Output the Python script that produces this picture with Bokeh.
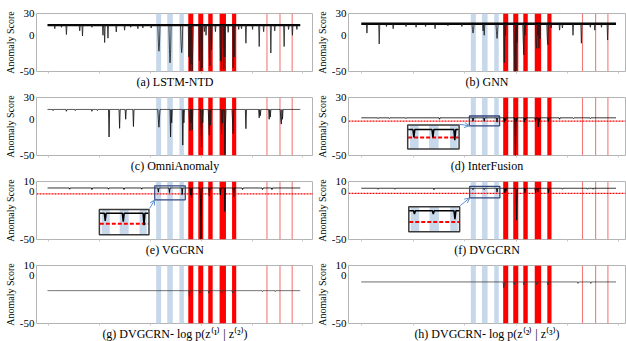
from bokeh.plotting import figure
from bokeh.layouts import gridplot
from bokeh.models import Range1d, FixedTicker, Arrow, OpenHead, CustomJSTickFormatter
from bokeh.embed import file_html
from bokeh.resources import INLINE

FONT = "Liberation Serif"

CAPTIONS = ["(a) LSTM-NTD", "(b) GNN", "(c) OmniAnomaly", "(d) InterFusion",
            "(e) VGCRN", "(f) DVGCRN",
            "(g) DVGCRN- log p(z\u207d\u00b9\u207e | z\u207d\u00b2\u207e)",
            "(h) DVGCRN- log p(z\u207d\u00b2\u207e | z\u207d\u00b3\u207e)"]

Y_TOP = [30, 30, 30, 30, 10, 10, 10, 10]
Y_BOTTOM = -50
Y_TICKS = [[-50, 0, 30], [-50, 0, 30], [-50, 0, 30], [-50, 0, 30],
           [-50, 0, 10], [-50, 0, 10], [-50, 0, 10], [-50, 0, 10]]
X_TICKS = [42, 226, 410, 594, 778, 962]

# labelled anomaly segments (time index, 0..1000)
BLUE_L = [432, 472, 516]
BLUE_R = [450, 492, 532]
RED_L = [548, 584, 620, 661, 706]
RED_R = [566, 602, 636, 684, 721]
THIN_X = [832, 879, 923]

T_START, T_END, T_STEP = 40, 952, 2

BASELINES = [14, 15.7, 13.5, 2, 3.3, 3, -16, -7]
BAND_W = [2.2, 2.5, 0, 0, 0, 0, 0, 0]        # thickness of the noisy normal-score band
LINE_W = [0.8, 0.8, 0.9, 0.9, 0.9, 0.9, 0.8, 0.8]
LINE_C = ["#1a1a1a", "#1a1a1a", "#1a1a1a", "black", "black", "black", "#333333", "#333333"]

SPIKES_A = [(66, 9), (108, 1), (156, 6), (166, -1), (240, 0), (246, -10), (258, -4), (288, 4.5),
            (318, 7), (366, 9), (384, 10), (414, 10), (90, 11), (200, 11), (340, 11),
            (440, -10), (442, -22), (444, -12), (480, -20), (482, -38), (484, -25),
            (522, -12), (524, -24), (526, -15),
            (550, -30), (554, -49), (558, -40), (562, -49), (564, -20),
            (588, -35), (594, -49), (598, -45), (606, 5), (612, 0),
            (624, -30), (626, -42), (632, -20), (646, 5),
            (664, -35), (668, -47), (676, -47), (680, -30), (692, 4),
            (710, -45), (714, -30), (730, 8), (740, 9),
            (756, -11), (780, 8), (804, -15.6), (820, 5), (846, -24.5), (860, 6),
            (894, -15.6), (910, 8), (924, 0), (940, 8)]

SPIKES_B = [(61, 3), (104, -12), (154, 9), (130, 12), (200, 12), (237, 11), (270, 12),
            (303, 9), (350, 13), (400, 12),
            (438, 8), (440, 3), (442, 8), (477, 6), (479, 0), (481, 7),
            (524, 5), (526, -4.4), (528, 6),
            (551, -10), (553, -38), (557, 0), (588, -20), (590, -50), (594, -50), (598, -10),
            (620, -10), (622, -27), (626, 0), (666, -10), (668, -18), (672, 0), (676, -18),
            (680, -5), (706, -5), (708, -13), (720, 10),
            (750, 7), (760, 10), (798, 0), (829, -11), (860, 11), (875, 7), (900, 11), (922, -6.6)]

SPIKES_C = [(60, 12), (108, 11), (140, 12), (200, 11), (220, 12),
            (262, -24.5), (300, -12.5), (322, 0), (350, -10),
            (440, 0), (442, -11), (444, 2), (483, -5), (485, -24.5), (487, -5),
            (527, -10), (529, -35.7), (531, -5),
            (552, 0), (554, -15.6), (558, -5), (562, -15),
            (594, -10), (596, -38), (600, -5), (622, -5), (624, -22), (628, -8),
            (667, -20), (672, -5), (679, -49), (682, -10), (708, -5), (710, -20),
            (756, -13), (804, 2), (808, 5), (840, 0), (844, 3), (882, -2), (884, -6.7), (888, 0)]

SPIKES_D = [(100, 1), (140, 1), (200, 1), (320, 0),
            (441, -2.5), (481, -2.5), (526, -4),
            (552, -4), (556, -2), (590, -4), (593, -50), (596, -3), (624, -4), (628, -1),
            (664, -3), (674, -10.4), (678, -3), (710, -3), (750, 0),
            (800, 1), (860, 1)]

SPIKES_E = [(120, 2), (200, 1.7), (260, 2), (315, 1.7), (380, 2),
            (441, -1), (481, -1.5), (526, -3.5),
            (555, -4), (559, -6.7), (592, -8), (594, -50), (597, -5), (625, -5),
            (664, -4), (680, -21), (712, -5.7),
            (745, 1.7), (815, 1.7), (850, 1.7)]

SPIKES_F = [(100, 2), (160, 2), (300, 1.5),
            (441, 1.5), (481, 1.5), (526, -1),
            (554, -1.7), (558, 0), (595, -30), (598, 0), (626, -1.7),
            (664, -1.7), (672, -1), (710, -1.7),
            (760, 2), (850, 2), (870, 2)]

SPIKES_G = [(551, -22), (553, -20), (590, -18.7), (622, -18.7), (668, -18.7),
            (708, -18.7), (816, -17), (862, -17)]

SPIKES_H = [(550, -13), (552, -10), (589, -10), (622, -10), (667, -10),
            (707, -10), (816, -8.5), (862, -8.5)]

SPIKES = [SPIKES_A, SPIKES_B, SPIKES_C, SPIKES_D, SPIKES_E, SPIKES_F, SPIKES_G, SPIKES_H]

# detection thresholds (panels d, e, f)
THRESH = {3: -2.5, 4: -2.7, 5: -2.3}

# zoom windows (x0, x1, y0, y1) and inset boxes (x0, x1, y0, y1)
ZOOM_WIN = {3: (427, 535, -9, 4.5), 4: (427, 537, -9, 5.5), 5: (428, 536, -7, 5)}
INSET_BOX = {3: (206, 390, -41, -8), 4: (227, 406, -45, -19), 5: (210, 392, -42, -16)}


def build_series(base, spikes):
    xs = list(range(T_START, T_END + 1, T_STEP))
    ys = [base] * len(xs)
    for x, v in spikes:
        i = round((x - T_START) / T_STEP)
        if 0 <= i < len(ys):
            ys[i] = min(ys[i], v)
    return xs, ys


def make_panel(k):
    row = k // 2
    left_col = (k % 2 == 0)
    xr = Range1d(0, 1000) if left_col else Range1d(-6, 986)
    top = Y_TOP[k]
    p = figure(frame_width=277, frame_height=58,
               x_range=xr, y_range=Range1d(Y_BOTTOM, top),
               output_backend="svg", toolbar_location=None,
               min_border_left=36 if left_col else 34,
               min_border_right=0 if left_col else 1,
               min_border_top=13 if row == 0 else 6, min_border_bottom=19)
    p.grid.visible = False
    p.outline_line_color = "#b4b4b4"
    p.outline_line_width = 1
    p.background_fill_color = "white"
    p.border_fill_color = "white"

    # y axis
    ya = p.yaxis[0]
    ya.ticker = FixedTicker(ticks=Y_TICKS[k])
    ya.major_label_overrides = {t: str(t) for t in Y_TICKS[k]}
    ya.axis_line_color = None
    ya.major_tick_line_color = None
    ya.minor_tick_line_color = None
    ya.major_tick_out = 0
    ya.major_tick_in = 0
    ya.major_label_standoff = 2
    ya.major_label_text_font = FONT
    ya.major_label_text_font_size = "11px"
    ya.major_label_text_color = "black"
    ya.axis_label = "Anomaly Score"
    ya.axis_label_text_font = FONT
    ya.axis_label_text_font_size = "10px"
    ya.axis_label_text_font_style = "normal"
    ya.axis_label_text_color = "black"
    ya.axis_label_standoff = 1

    # x axis (caption)
    xa = p.xaxis[0]
    xa.ticker = FixedTicker(ticks=X_TICKS)
    xa.formatter = CustomJSTickFormatter(code="return ''")
    xa.axis_line_color = None
    xa.major_tick_line_color = "#c8c8c8"
    xa.major_tick_out = 2
    xa.major_tick_in = 0
    xa.minor_tick_line_color = None
    xa.major_label_standoff = 0
    xa.major_label_text_font_size = "1px"
    xa.axis_label = CAPTIONS[k]
    xa.axis_label_text_font = FONT
    xa.axis_label_text_font_size = "12px"
    xa.axis_label_text_font_style = "normal"
    xa.axis_label_text_color = "black"
    xa.axis_label_standoff = 1

    # labelled segments
    p.quad(left=BLUE_L, right=BLUE_R, bottom=Y_BOTTOM, top=top,
           fill_color="#c6d8ea", line_color=None)
    p.quad(left=RED_L, right=RED_R, bottom=Y_BOTTOM, top=top,
           fill_color="#ff0000", line_color=None)
    p.segment(x0=THIN_X, y0=Y_BOTTOM, x1=THIN_X, y1=top,
              line_color="#f47a7a", line_width=1.1)

    if k in THRESH:
        p.line(x=[xr.start, xr.end], y=[THRESH[k], THRESH[k]],
               line_color="#ff0000", line_dash="2 1", line_width=1.3)

    xs, ys = build_series(BASELINES[k], SPIKES[k])
    if BAND_W[k] > 0:
        p.line(x=[T_START, T_END], y=[BASELINES[k], BASELINES[k]],
               line_color="black", line_width=BAND_W[k])
    p.line(xs, ys, line_color=LINE_C[k], line_width=LINE_W[k])

    if k in ZOOM_WIN:
        zx0, zx1, zy0, zy1 = ZOOM_WIN[k]
        ix0, ix1, iy0, iy1 = INSET_BOX[k]

        def mx(x):
            return ix0 + (x - zx0) / (zx1 - zx0) * (ix1 - ix0)

        def my(y):
            y = max(zy0, min(zy1, y))
            return iy0 + (y - zy0) / (zy1 - zy0) * (iy1 - iy0)

        p.quad(left=[zx0], right=[zx1], bottom=[zy0], top=[zy1],
               fill_color=None, line_color="#34467e", line_width=1.3)
        p.quad(left=[ix0], right=[ix1], bottom=[iy0], top=[iy1],
               fill_color="white", line_color=None)
        bl, br = [], []
        for a, b in zip(BLUE_L, BLUE_R):
            a2, b2 = max(a, zx0), min(b, zx1)
            if b2 > a2:
                bl.append(mx(a2))
                br.append(mx(b2))
        p.quad(left=bl, right=br, bottom=iy0, top=iy1,
               fill_color="#c6d8ea", line_color=None)
        p.line(x=[mx(zx0) + 1.5, mx(zx1) - 1.5], y=[my(THRESH[k])] * 2,
               line_color="#ff0000", line_dash="4 2", line_width=2)
        ix = [mx(x) for x in xs if zx0 <= x <= zx1]
        iy = [my(y) for x, y in zip(xs, ys) if zx0 <= x <= zx1]
        p.line(ix, iy, line_color="black", line_width=1.5)
        p.quad(left=[ix0], right=[ix1], bottom=[iy0], top=[iy1],
               fill_color=None, line_color="#3a3a3a", line_width=1.5)
        p.add_layout(Arrow(end=OpenHead(size=5, line_color="#5b8fcf", line_width=1),
                           x_start=ix1 + 2, y_start=iy1 + 1, x_end=zx0, y_end=zy0,
                           line_color="#5b8fcf", line_width=1))
    return p


panels = [make_panel(k) for k in range(8)]
grid = gridplot([[panels[0], panels[1]], [panels[2], panels[3]],
                 [panels[4], panels[5]], [panels[6], panels[7]]],
                toolbar_location=None)

open("out.html", "w").write(file_html(grid, INLINE))
